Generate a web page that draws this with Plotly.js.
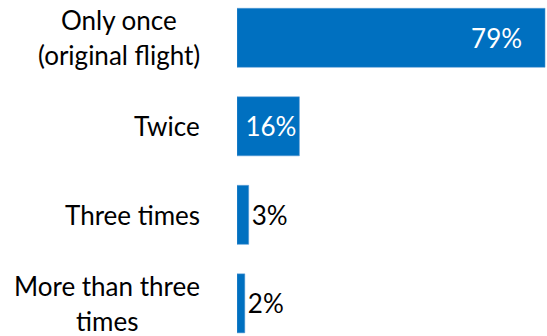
<!DOCTYPE html>
<html><head><meta charset="utf-8">
<script src="https://cdn.plot.ly/plotly-3.0.1.min.js"></script>
<style>html,body{margin:0;padding:0;background:#fff;}#chart{width:547px;height:336px;}</style>
</head><body><div id="chart"></div>
<script>
const categories = ["Only once<br>(original flight)", "Twice", "Three times", "More than three<br>times"];
const values = [79, 16, 3, 2];
const valueLabels = ["79%\u00a0\u00a0\u00a0", "16%", "3%", "2%"];
const labelPositions = ["inside", "inside", "outside", "outside"];
const labelColors = ["#ffffff", "#ffffff", "#000000", "#000000"];

const FONT = "Lato, 'Open Sans', sans-serif";
const trace = {
  type: "bar", orientation: "h",
  x: values, y: categories,
  marker: {color: "#0070C0", line: {color: "#5B9BD5", width: 0.5}},
  text: valueLabels, textposition: labelPositions,
  insidetextanchor: "end",
  textfont: {family: FONT, size: 26, color: labelColors},
  constraintext: "none",
  cliponaxis: false,
  hoverinfo: "skip"
};
// category labels: one annotation per text line, centred lines, right edge at a fixed gap from the axis
const LINE = 35;
const annotations = [];
categories.forEach(c => {
  const lines = c.split("<br>");
  const n = lines.length;
  lines.forEach((ln, i) => {
    annotations.push({
      xref: "paper", yref: "y", x: 0, y: c, xanchor: "right", yanchor: "middle",
      xshift: -35, yshift: ((n - 1) / 2 - i) * LINE, showarrow: false, text: ln,
      font: {family: FONT, size: 26, color: "#000"}
    });
  });
});
// centre multi-line blocks: shift shorter lines so each block is centred on its longest line
const layout = {
  width: 547, height: 336,
  margin: {l: 237, r: 0, t: 0, b: 0},
  paper_bgcolor: "#fff", plot_bgcolor: "#fff",
  bargap: 0.333,
  showlegend: false,
  xaxis: {range: [0, 79.5], visible: false, fixedrange: true},
  yaxis: {type: "category", range: [3.369, -0.427], showticklabels: false, showgrid: false,
          zeroline: false, showline: false, ticks: "", fixedrange: true},
  annotations: annotations
};
Plotly.newPlot("chart", [trace], layout, {displayModeBar: false, staticPlot: true}).then(gd => {
  // measure widths of each line and centre shorter lines within their block
  const els = gd.querySelectorAll(".annotation-text");
  const widths = Array.from(els).map(e => e.getBBox().width);
  const upd = {};
  let k = 0;
  categories.forEach(c => {
    const n = c.split("<br>").length;
    const w = widths.slice(k, k + n);
    const maxW = Math.max(...w);
    for (let i = 0; i < n; i++) {
      upd["annotations[" + (k + i) + "].xshift"] = -35 - (maxW - w[i]) / 2;
    }
    k += n;
  });
  return Plotly.relayout(gd, upd);
});
</script></body></html>
